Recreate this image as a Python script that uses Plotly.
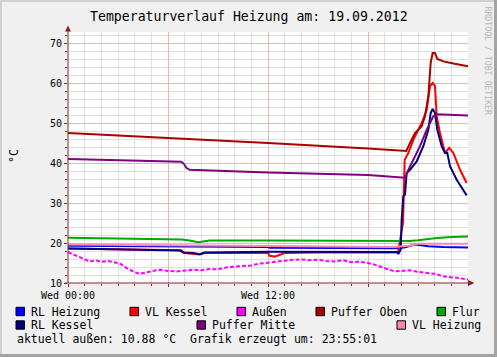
import plotly.graph_objects as go

# ---------------- data (hours since Wed 00:00, °C) ----------------
t_rl_heizung = [0, 3, 6, 9, 12, 12.1, 16, 19.9, 20.3, 20.8, 21.3, 21.6, 22.5, 24]
v_rl_heizung = [19.3, 19.2, 19.1, 19.0, 19.0, 18.8, 18.8, 18.7, 19.0, 19.6, 19.4, 19.2, 19.0, 18.9]

t_vl_kessel = [0, 3, 6.8, 7.0, 7.9, 8.2, 12.0, 12.1, 12.4, 13.0, 16, 19.8, 20.1, 20.2, 20.42, 20.72, 21.22, 21.52,
               21.72, 21.88, 22.02, 22.12, 22.32, 22.62, 22.88, 23.12, 23.52, 23.92]
v_vl_kessel = [18.6, 18.5, 18.2, 17.5, 17.1, 17.5, 17.5, 16.8, 16.6, 17.5, 17.7, 17.6, 25.0, 40.8, 42.5, 45.8, 50.0, 53.3,
               59.2, 60.0, 59.2, 51.7, 47.5, 42.5, 43.8, 42.5, 38.3, 35.0]

t_aussen = [0.0, 0.3, 0.7, 1.0, 1.3, 1.7, 2.0, 2.4, 2.8, 3.1, 3.5, 3.9, 4.3, 4.6, 4.9, 5.3, 5.6, 6.0, 6.5, 7.0,
            7.5, 8.0, 8.5, 9.0, 9.5, 10.0, 10.5, 11.0, 11.4, 11.8, 12.2, 12.6, 13.0, 13.5, 14.0, 14.5, 15.0,
            15.5, 16.0, 16.5, 17.0, 17.5, 18.0, 18.4, 18.8, 19.2, 19.6, 20.0, 20.5, 21.0, 21.5, 22.0, 22.5,
            23.0, 23.5, 24.0]
v_aussen = [17.7, 17.2, 16.5, 15.9, 15.4, 15.6, 15.3, 15.5, 15.2, 14.9, 13.8, 12.9, 12.3, 12.6, 12.9, 13.2,
            13.3, 13.0, 12.9, 13.1, 13.3, 13.2, 13.5, 13.4, 13.9, 14.1, 14.2, 14.4, 14.8, 15.0, 15.3, 15.5,
            15.6, 15.8, 15.9, 15.7, 15.8, 15.5, 15.4, 15.7, 15.2, 15.3, 15.0, 14.6, 14.0, 13.4, 12.9, 13.0,
            13.2, 12.8, 12.5, 12.3, 11.7, 11.5, 11.2, 10.9]

t_puffer_oben = [0, 6, 12, 18, 20.3, 20.52, 20.82, 21.22, 21.42, 21.62, 21.76, 21.88, 22.02, 22.16, 22.52, 23.2, 24]
v_puffer_oben = [47.5, 46.3, 45.0, 43.6, 43.0, 45.0, 47.5, 49.2, 51.7, 56.7, 65.0, 67.5, 67.5, 66.0, 65.4, 64.8, 64.2]

t_flur = [0, 3, 6, 6.8, 7.3, 7.8, 8.1, 8.5, 12, 16, 19.5, 20.5, 21, 21.5, 22, 23, 24]
v_flur = [21.3, 21.2, 21.0, 20.9, 20.6, 20.2, 20.4, 20.6, 20.6, 20.5, 20.4, 20.5, 20.7, 21.0, 21.2, 21.5, 21.6]

t_rl_kessel = [0, 3, 6.7, 6.9, 7.5, 7.9, 8.2, 12, 16, 19.76, 19.82, 19.96, 20.02, 20.12, 20.22, 20.32, 20.52,
               20.92, 21.32, 21.62, 21.76, 21.88, 22.02, 22.16, 22.42, 22.62, 22.76, 22.92, 23.32, 23.92]
v_rl_kessel = [18.6, 18.4, 18.15, 17.6, 17.5, 17.2, 17.65, 17.8, 17.8, 17.75, 17.25, 18.3, 25.8, 31.7, 32.1, 37.5,
               38.3, 40.4, 44.2, 48.3, 52.5, 53.5, 52.5, 48.3, 44.2, 42.5, 42.5, 39.2, 35.8, 31.9]

t_puffer_mitte = [0, 3, 6.8, 6.95, 7.1, 7.3, 9, 12, 15, 18, 20.22, 20.42, 20.72, 21.12, 21.52, 21.92, 22.12, 23, 24]
v_puffer_mitte = [41.0, 40.7, 40.3, 39.8, 38.8, 38.3, 38.0, 37.6, 37.3, 37.0, 36.3, 38.3, 40.8, 44.2, 48.3, 51.7,
                  52.2, 52.1, 51.9]

t_vl_heizung = [0, 3, 6, 12, 16, 19.5, 20.5, 21.0, 22.5, 24]
v_vl_heizung = [19.6, 19.5, 19.3, 19.1, 19.0, 19.0, 19.3, 19.8, 19.8, 19.8]

x_tick_vals = [0, 6, 12, 18]
x_tick_text = ["Wed 00:00", "", "Wed 12:00", ""]

title_text = "Temperaturverlauf Heizung am: 19.09.2012"
info_text = "aktuell außen: 10.88 °C  Grafik erzeugt um: 23:55:01"

series = [
    ("RL Heizung", t_rl_heizung, v_rl_heizung, "#0000ff", "solid"),
    ("VL Kessel", t_vl_kessel, v_vl_kessel, "#ff0000", "solid"),
    ("Außen", t_aussen, v_aussen, "#ff00ff", "4px,2px"),
    ("Puffer Oben", t_puffer_oben, v_puffer_oben, "#aa0000", "solid"),
    ("Flur", t_flur, v_flur, "#00aa00", "solid"),
    ("RL Kessel", t_rl_kessel, v_rl_kessel, "#000080", "solid"),
    ("Puffer Mitte", t_puffer_mitte, v_puffer_mitte, "#800080", "solid"),
    ("VL Heizung", t_vl_heizung, v_vl_heizung, "#ff88aa", "solid"),
]

# legend placement (pixel positions of swatches) – row, x
legend_pos = {
    "RL Heizung": (0, 16), "VL Kessel": (0, 130), "Außen": (0, 237), "Puffer Oben": (0, 316), "Flur": (0, 437),
    "RL Kessel": (1, 16), "Puffer Mitte": (1, 197), "VL Heizung": (1, 397),
}

FONT = "DejaVu Sans Mono"
W, H = 497, 357
L, R, T, B = 68, 29, 32, 74
PW, PH = W - L - R, H - T - B
AXC = "#802828"


def px(x):
    return (x - L) / PW


def py(y):
    return (H - B - y) / PH


fig = go.Figure()
for name, t, v, col, dash in series:
    fig.add_trace(go.Scatter(x=t, y=v, mode="lines", name=name, showlegend=False, hoverinfo="skip",
                             line=dict(color=col, width=2, dash=dash)))

shapes = []
annotations = []

# title
annotations.append(dict(text=title_text, x=px(249), y=py(16.5), xref="paper", yref="paper",
                        showarrow=False, font=dict(family=FONT, size=13.2, color="#000000"),
                        xanchor="center", yanchor="middle"))
# y label
annotations.append(dict(text="°C", x=px(14), y=py(156), xref="paper", yref="paper", textangle=-90,
                        showarrow=False, font=dict(family=FONT, size=11.5, color="#000000"),
                        xanchor="center", yanchor="middle"))
# watermark
annotations.append(dict(text="RRDTOOL / TOBI OETIKER", x=px(487.5), y=py(61), xref="paper", yref="paper",
                        textangle=90, showarrow=False, font=dict(family=FONT, size=8.2, color="#b8b8b8"),
                        xanchor="center", yanchor="middle"))

row_y = [311.5, 325]
for name, t, v, col, dash in series:
    r, x0 = legend_pos[name]
    yc = row_y[r]
    shapes.append(dict(type="rect", xref="paper", yref="paper", x0=px(x0), x1=px(x0 + 8.5),
                       y0=py(yc - 4.2), y1=py(yc + 4.2), fillcolor=col, line=dict(color="#000000", width=1)))
    annotations.append(dict(text=name, x=px(x0 + 13), y=py(yc), xref="paper", yref="paper", showarrow=False,
                            font=dict(family=FONT, size=11.5, color="#000000"), xanchor="left", yanchor="middle"))
annotations.append(dict(text=info_text, x=px(15), y=py(339), xref="paper", yref="paper", showarrow=False,
                        font=dict(family=FONT, size=11.5, color="#000000"), xanchor="left", yanchor="middle"))

# axis arrows
shapes.append(dict(type="line", xref="paper", yref="paper", x0=px(68), x1=px(68), y0=py(283), y1=py(30),
                   line=dict(color=AXC, width=1)))
shapes.append(dict(type="path", xref="paper", yref="paper",
                   path=f"M {px(65)} {py(31.5)} L {px(71)} {py(31.5)} L {px(68)} {py(25.5)} Z",
                   fillcolor=AXC, line=dict(color=AXC, width=0)))
shapes.append(dict(type="line", xref="paper", yref="paper", x0=px(65), x1=px(470), y0=py(283), y1=py(283),
                   line=dict(color=AXC, width=1)))
shapes.append(dict(type="path", xref="paper", yref="paper",
                   path=f"M {px(468)} {py(280)} L {px(468)} {py(286)} L {px(474.5)} {py(283)} Z",
                   fillcolor=AXC, line=dict(color=AXC, width=0)))

# frame (bevel)
shapes.append(dict(type="rect", xref="paper", yref="paper", x0=px(0), x1=px(W), y0=py(0), y1=py(2),
                   fillcolor="#d0d0d0", line=dict(width=0), layer="below"))
shapes.append(dict(type="rect", xref="paper", yref="paper", x0=px(0), x1=px(2), y0=py(0), y1=py(H),
                   fillcolor="#d0d0d0", line=dict(width=0), layer="below"))
shapes.append(dict(type="rect", xref="paper", yref="paper", x0=px(W - 3), x1=px(W), y0=py(0), y1=py(H),
                   fillcolor="#a4a4a4", line=dict(width=0)))
shapes.append(dict(type="rect", xref="paper", yref="paper", x0=px(0), x1=px(W), y0=py(H - 3), y1=py(H),
                   fillcolor="#a4a4a4", line=dict(width=0)))

fig.update_layout(
    width=W, height=H,
    margin=dict(l=L, r=R, t=T, b=B, pad=0),
    paper_bgcolor="#f0f0f0", plot_bgcolor="#ffffff",
    font=dict(family=FONT, size=10, color="#000000"),
    shapes=shapes, annotations=annotations,
    showlegend=False, hovermode=False,
)
fig.update_xaxes(range=[0, 24], tickvals=x_tick_vals, ticktext=x_tick_text, showgrid=True,
                 gridcolor="#f2b0b0", gridwidth=1, zeroline=False, showline=False,
                 ticks="outside", ticklen=3, tickcolor=AXC,
                 minor=dict(dtick=1, showgrid=True, gridcolor="#dedede", ticks="outside", ticklen=2, tickcolor=AXC),
                 tickfont=dict(family=FONT, size=10))
fig.update_yaxes(range=[10, 72.75], dtick=10, tick0=0, showgrid=True, gridcolor="#f2b0b0", gridwidth=1,
                 zeroline=False, showline=False, ticks="outside", ticklen=3, tickcolor=AXC,
                 minor=dict(dtick=2, showgrid=True, gridcolor="#dedede", ticks="outside", ticklen=2, tickcolor=AXC),
                 tickfont=dict(family=FONT, size=10))

fig.write_html("out.html", config={"displayModeBar": False, "staticPlot": True},
               post_script="document.body.style.margin='0px';document.body.style.overflow='hidden';")
